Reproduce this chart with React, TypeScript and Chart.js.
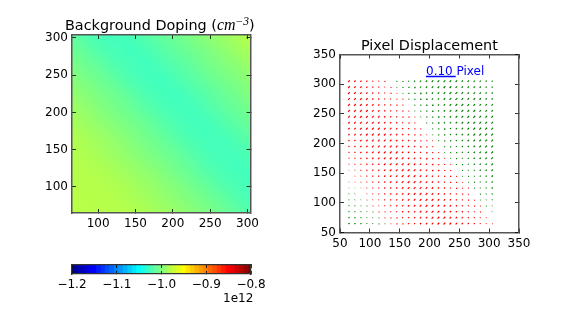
import React, { useEffect, useRef } from "react";
import { Chart, registerables } from "chart.js";
Chart.register(...registerables);

const heatXs = [65, 85, 105, 125, 145, 165, 185, 205, 225, 245, 265, 285, 305];
const heatYs = [305, 285, 265, 245, 225, 205, 185, 165, 145, 125, 105, 85, 65];
const heatValues = [
  [-1.012, -1.019, -1.022, -1.025, -1.021, -1.016, -1.011, -1.006, -1.001, -0.995, -0.99, -0.984, -0.978],
  [-1.008, -1.013, -1.02, -1.022, -1.025, -1.021, -1.016, -1.011, -1.006, -1.001, -0.995, -0.989, -0.983],
  [-1.003, -1.008, -1.013, -1.02, -1.022, -1.025, -1.02, -1.016, -1.011, -1.005, -1.0, -0.995, -0.989],
  [-0.998, -1.003, -1.008, -1.014, -1.02, -1.023, -1.025, -1.02, -1.015, -1.01, -1.005, -1.0, -0.994],
  [-0.993, -0.998, -1.003, -1.008, -1.014, -1.02, -1.023, -1.025, -1.02, -1.015, -1.01, -1.005, -0.999],
  [-0.989, -0.993, -0.999, -1.004, -1.009, -1.015, -1.02, -1.023, -1.024, -1.019, -1.014, -1.009, -1.004],
  [-0.985, -0.989, -0.994, -0.999, -1.004, -1.009, -1.015, -1.02, -1.023, -1.024, -1.019, -1.014, -1.009],
  [-0.981, -0.985, -0.989, -0.994, -0.999, -1.005, -1.01, -1.016, -1.021, -1.023, -1.023, -1.019, -1.014],
  [-0.98, -0.982, -0.986, -0.99, -0.995, -1.0, -1.005, -1.01, -1.016, -1.021, -1.023, -1.023, -1.018],
  [-0.979, -0.98, -0.982, -0.986, -0.99, -0.995, -1.0, -1.006, -1.011, -1.018, -1.021, -1.024, -1.023],
  [-0.979, -0.979, -0.98, -0.982, -0.986, -0.99, -0.995, -1.0, -1.006, -1.011, -1.018, -1.021, -1.024],
  [-0.978, -0.979, -0.979, -0.98, -0.983, -0.987, -0.991, -0.996, -1.001, -1.006, -1.011, -1.018, -1.021],
  [-0.977, -0.978, -0.979, -0.979, -0.98, -0.983, -0.987, -0.991, -0.996, -1.001, -1.007, -1.012, -1.019],
];

const quiverXs = [65, 75, 85, 95, 105, 115, 125, 135, 145, 155, 165, 175, 185, 195, 205, 215, 225, 235, 245, 255, 265, 275, 285, 295, 305];
const quiverYs = [305, 295, 285, 275, 265, 255, 245, 235, 225, 215, 205, 195, 185, 175, 165, 155, 145, 135, 125, 115, 105, 95, 85, 75, 65];
// Signed arrow size: positive arrows are red, negative are green (tenths of a screen pixel).
const quiverSizes = [
  [28, 24, 20, 16, 12, 8, 4, 0, -4, -8, -12, -16, -20, -24, -28, -30, -30, -28, -26, -24, -22, -20, -18, -16, -14],
  [31, 27, 23, 19, 15, 11, 7, 3, -1, -5, -9, -13, -17, -21, -25, -29, -31, -30, -28, -26, -24, -22, -20, -18, -16],
  [32, 30, 26, 22, 18, 14, 10, 6, 2, -2, -6, -10, -14, -18, -22, -26, -30, -32, -30, -28, -26, -24, -22, -20, -18],
  [32, 32, 29, 25, 21, 17, 13, 9, 5, 1, -3, -7, -11, -15, -19, -23, -27, -31, -32, -30, -28, -26, -24, -22, -20],
  [32, 32, 32, 28, 24, 20, 16, 12, 8, 4, 0, -4, -8, -12, -16, -20, -24, -28, -32, -32, -30, -28, -26, -24, -22],
  [32, 32, 32, 31, 27, 23, 19, 15, 11, 7, 3, -1, -5, -9, -13, -17, -21, -25, -29, -32, -32, -30, -28, -26, -24],
  [28, 32, 32, 32, 30, 26, 22, 18, 14, 10, 6, 2, -2, -6, -10, -14, -18, -22, -26, -30, -32, -32, -30, -28, -26],
  [25, 29, 32, 32, 32, 28, 24, 20, 16, 12, 8, 4, 0, -4, -8, -12, -16, -20, -24, -28, -32, -32, -32, -30, -28],
  [22, 25, 29, 32, 32, 32, 28, 24, 20, 16, 12, 8, 4, 0, -4, -8, -12, -16, -20, -24, -28, -32, -32, -32, -30],
  [19, 23, 26, 30, 32, 32, 30, 26, 22, 18, 14, 10, 6, 2, -2, -6, -10, -14, -18, -22, -26, -30, -32, -32, -32],
  [16, 20, 23, 27, 30, 32, 32, 29, 25, 21, 17, 13, 9, 5, 1, -3, -7, -11, -15, -19, -23, -27, -31, -32, -32],
  [14, 17, 21, 24, 28, 31, 32, 32, 28, 24, 20, 16, 12, 8, 4, 0, -4, -8, -12, -16, -20, -24, -28, -32, -32],
  [11, 14, 18, 21, 25, 28, 32, 32, 31, 27, 23, 19, 15, 11, 7, 3, -1, -5, -9, -13, -17, -21, -25, -29, -32],
  [8, 11, 15, 18, 22, 25, 29, 32, 32, 30, 26, 22, 18, 14, 10, 6, 2, -2, -6, -10, -14, -18, -22, -26, -30],
  [5, 9, 12, 16, 19, 23, 26, 30, 32, 32, 29, 25, 21, 17, 13, 9, 5, 1, -3, -7, -11, -15, -19, -23, -27],
  [2, 6, 9, 13, 16, 20, 23, 27, 30, 32, 32, 28, 24, 20, 16, 12, 8, 4, 0, -4, -8, -12, -16, -20, -24],
  [0, 4, 7, 11, 14, 18, 21, 25, 28, 32, 32, 31, 27, 23, 19, 15, 11, 7, 3, -1, -5, -9, -13, -17, -21],
  [-2, 2, 5, 9, 12, 16, 19, 23, 26, 30, 32, 32, 30, 26, 22, 18, 14, 10, 6, 2, -2, -6, -10, -14, -18],
  [-4, -1, 2, 6, 9, 13, 16, 20, 23, 27, 30, 32, 32, 29, 25, 21, 17, 13, 9, 5, 1, -3, -7, -11, -15],
  [-6, -3, 0, 3, 7, 10, 14, 17, 21, 24, 28, 31, 32, 32, 28, 24, 20, 16, 12, 8, 4, 0, -4, -8, -12],
  [-8, -5, -2, 1, 4, 8, 11, 15, 18, 22, 25, 29, 32, 32, 31, 27, 23, 19, 15, 11, 7, 3, -1, -5, -9],
  [-10, -8, -5, -2, 2, 5, 9, 12, 16, 19, 23, 26, 30, 32, 32, 30, 26, 22, 18, 14, 10, 6, 2, -2, -6],
  [-13, -10, -7, -4, -1, 2, 6, 9, 13, 16, 20, 23, 27, 30, 32, 32, 28, 24, 20, 16, 12, 8, 4, 0, -4],
  [-16, -13, -10, -7, -4, -1, 2, 6, 9, 13, 16, 20, 23, 27, 30, 32, 32, 28, 24, 20, 16, 12, 8, 4, 0],
  [-19, -16, -13, -10, -7, -4, -1, 2, 6, 9, 13, 16, 20, 23, 27, 30, 32, 30, 26, 22, 18, 14, 10, 6, 2],
];
const keyArrowX = [194, 244];
const keyArrowY = [313, 313];

const colorbarLevels = [
  -1.2, -1.19, -1.18, -1.17, -1.16, -1.15, -1.14, -1.13, -1.12, -1.11, -1.1, -1.09, -1.08, -1.07, -1.06, -1.05, -1.04, -1.03, -1.02, -1.01, -1.0,
  -0.99, -0.98, -0.97, -0.96, -0.95, -0.94, -0.93, -0.92, -0.91, -0.9, -0.89, -0.88, -0.87, -0.86, -0.85, -0.84, -0.83, -0.82, -0.81, -0.8,
];

const FONT = "'DejaVu Sans'";
const W = 576;
const H = 325;
const LEFT_BOX = 40;
const BOTTOM_BOX = 26;
const FRAME = "#555";

const clip01 = (v: number) => Math.max(0, Math.min(1, v));
const jetRgb = (value: number) => {
  const t = (value + 1.2) / 0.4;
  return [
    Math.round(255 * clip01(1.5 - Math.abs(4 * t - 3))),
    Math.round(255 * clip01(1.5 - Math.abs(4 * t - 2))),
    Math.round(255 * clip01(1.5 - Math.abs(4 * t - 1))),
  ];
};
const jetCss = (value: number) => `rgb(${jetRgb(value).join(",")})`;

const heatCells = heatYs.flatMap((y, r) => heatXs.map((x, c) => ({ x, y, v: heatValues[r][c] })));

// Paints the grid smoothly between cell centres, placed through the chart's scales.
const smoothHeat = {
  id: "smoothHeat",
  afterDatasetsDraw(chart: any) {
    const off = document.createElement("canvas");
    off.width = heatXs.length;
    off.height = heatYs.length;
    const octx = off.getContext("2d")!;
    const img = octx.createImageData(off.width, off.height);
    heatValues.forEach((row, r) =>
      row.forEach((v, c) => {
        const [a, b, d] = jetRgb(v);
        const i = (r * off.width + c) * 4;
        img.data[i] = a;
        img.data[i + 1] = b;
        img.data[i + 2] = d;
        img.data[i + 3] = 255;
      })
    );
    octx.putImageData(img, 0, 0);
    const { ctx, chartArea: a, scales } = chart;
    const x0 = scales.x.getPixelForValue(heatXs[0] - 10);
    const x1 = scales.x.getPixelForValue(heatXs[heatXs.length - 1] + 10);
    const y0 = scales.y.getPixelForValue(heatYs[0] + 10);
    const y1 = scales.y.getPixelForValue(heatYs[heatYs.length - 1] - 10);
    ctx.save();
    ctx.beginPath();
    ctx.rect(a.left, a.top, a.right - a.left, a.bottom - a.top);
    ctx.clip();
    ctx.imageSmoothingEnabled = true;
    ctx.imageSmoothingQuality = "high";
    ctx.drawImage(off, x0, y0, x1 - x0, y1 - y0);
    ctx.restore();
  },
};

const fitBox = (size: number, horizontal: boolean) => (s: any) => {
  if (horizontal) s.height = size;
  else s.width = size;
};

function axis(position: string, min: number, max: number, step: number, labelled: boolean, tick = 4, format?: (v: number) => string) {
  const horizontal = position === "top" || position === "bottom";
  const size = !labelled ? 0 : horizontal ? BOTTOM_BOX : LEFT_BOX;
  return {
    type: "linear",
    position,
    min,
    max,
    offset: false,
    afterFit: fitBox(size, horizontal),
    grid: { drawOnChartArea: false, drawTicks: true, tickLength: -tick, color: "#000", lineWidth: 0.8, z: 1, offset: false },
    border: { display: true, color: FRAME, width: 1.5, z: 1 },
    ticks: {
      stepSize: step,
      includeBounds: false,
      autoSkip: false,
      maxRotation: 0,
      minRotation: 0,
      padding: tick + 4,
      color: "#000",
      font: { family: FONT, size: 12 },
      z: 1,
      callback: (v: number) => (labelled ? (format ? format(v) : String(v)) : ""),
    },
  };
}

function makeOptions(left: number, right: number, top: number, bottom: number, scales: any, leftBox = LEFT_BOX) {
  return {
    responsive: false,
    animation: false,
    events: [],
    layout: { padding: { left: left - leftBox, right: W - right, top, bottom: H - bottom - BOTTOM_BOX } },
    plugins: { legend: { display: false }, tooltip: { enabled: false }, title: { display: false } },
    scales,
  } as any;
}

function quiverSegments(positive: boolean) {
  const pts: any[] = [];
  quiverYs.forEach((y, r) =>
    quiverXs.forEach((x, c) => {
      const s = quiverSizes[r][c];
      if (s === 0 || s > 0 !== positive) return;
      const len = (Math.abs(s) / 10) * 0.7 + 0.3;
      const dx = (len * 0.68) / 0.597;
      const dy = (len * 0.73) / 0.595;
      pts.push({ x: x - dx / 2, y: y - dy / 2 });
      pts.push({ x: x + dx / 2, y: y + dy / 2 });
      pts.push({ x, y: null });
    })
  );
  return pts;
}

const canvasStyle: React.CSSProperties = { position: "absolute", left: 0, top: 0 };
const textBase: React.CSSProperties = { position: "absolute", fontFamily: FONT, color: "#000", whiteSpace: "nowrap", lineHeight: 1 };

export default function App() {
  const heatRef = useRef<HTMLCanvasElement>(null);
  const quiverRef = useRef<HTMLCanvasElement>(null);
  const barRef = useRef<HTMLCanvasElement>(null);

  useEffect(() => {
    const heat = new Chart(heatRef.current!, {
      type: "scatter",
      data: {
        datasets: [
          {
            label: "Background Doping",
            data: heatCells,
            pointStyle: "rect",
            pointRadius: 11,
            pointBorderWidth: 0,
            pointBackgroundColor: heatCells.map((d) => jetCss(d.v)),
          },
        ],
      },
      options: makeOptions(72, 250.5, 35, 213, {
        x: axis("bottom", 65, 304, 50, true),
        y: axis("left", 65, 304, 50, true),
        x2: axis("top", 65, 304, 50, false),
        y2: axis("right", 65, 304, 50, false),
      }),
      plugins: [smoothHeat],
    } as any);

    const line = (label: string, data: any[], color: string, width: number) => ({
      label,
      data,
      showLine: true,
      spanGaps: false,
      borderColor: color,
      borderWidth: width,
      pointRadius: 0,
    });
    const quiver = new Chart(quiverRef.current!, {
      type: "scatter",
      data: {
        datasets: [
          line("Positive displacement", quiverSegments(true), "#ff0000", 1.2),
          line("Negative displacement", quiverSegments(false), "#008000", 1.2),
          line("Key", keyArrowX.map((x, i) => ({ x, y: keyArrowY[i] })), "#0000ff", 1.6),
        ],
      },
      options: makeOptions(340, 519, 54.5, 232.5, {
        x: axis("bottom", 50, 350, 50, true),
        y: axis("left", 50, 350, 50, true),
        x2: axis("top", 50, 350, 50, false),
        y2: axis("right", 50, 350, 50, false),
      }),
    } as any);

    const minusFmt = (v: number) => v.toFixed(1).replace("-", "\u2212");
    const sideAxis = (position: string) => ({
      type: "linear",
      position,
      min: 0,
      max: 1,
      afterFit: fitBox(0, false),
      grid: { display: false },
      border: { display: true, color: "#333", width: 1.3, z: 1 },
      ticks: { display: false },
    });
    const colorbar = new Chart(barRef.current!, {
      type: "bar",
      data: {
        datasets: [
          {
            label: "Colorbar",
            data: colorbarLevels.map((x) => ({ x, y: 1 })),
            backgroundColor: colorbarLevels.map(jetCss),
            barThickness: 5,
            borderWidth: 0,
          },
        ],
      },
      options: makeOptions(72, 251, 265, 274, {
        x: { ...axis("bottom", -1.2, -0.8, 0.1, true, 3, minusFmt), border: { display: true, color: "#333", width: 1.3, z: 1 } },
        x2: { ...axis("top", -1.2, -0.8, 0.1, false, 3), border: { display: true, color: "#333", width: 1.3, z: 1 } },
        y: sideAxis("left"),
        y2: sideAxis("right"),
      }, 0),
    } as any);

    return () => {
      heat.destroy();
      quiver.destroy();
      colorbar.destroy();
    };
  }, []);

  return (
    <div style={{ position: "fixed", left: 0, top: 0, width: W, height: H, background: "#fff", overflow: "hidden" }}>
      <canvas ref={heatRef} width={W} height={H} style={canvasStyle} />
      <canvas ref={quiverRef} width={W} height={H} style={canvasStyle} />
      <canvas ref={barRef} width={W} height={H} style={canvasStyle} />
      <div style={{ ...textBase, left: 65, top: 17, fontSize: 14.4 }}>
        Background Doping (
        <span style={{ fontFamily: "'Liberation Serif'", fontStyle: "italic", fontSize: 16 }}>
          cm
          <sup style={{ fontSize: 11.5, lineHeight: 0, verticalAlign: 5 }}>&minus;3</sup>
        </span>
        )
      </div>
      <div style={{ ...textBase, left: 361, top: 38, fontSize: 14.4 }}>Pixel Displacement</div>
      <div style={{ ...textBase, left: 426, top: 64.5, fontSize: 12, color: "#0000ff" }}>0.10 Pixel</div>
      <div style={{ ...textBase, left: 223, top: 292, fontSize: 12 }}>1e12</div>
    </div>
  );
}
